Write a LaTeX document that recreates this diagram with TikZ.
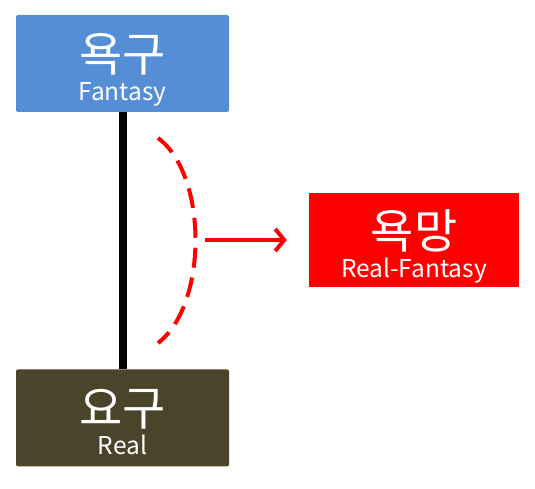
\documentclass[tikz,border=0pt]{standalone}
\usepackage{fontspec}
\setmainfont{Noto Sans CJK KR}
\usetikzlibrary{arrows.meta}
\usetikzlibrary{positioning}
\definecolor{fantasyblue}{RGB}{85,142,213}
\definecolor{realbrown}{RGB}{74,68,42}
\definecolor{desirered}{RGB}{255,0,0}
\newcommand{\boxfont}{\lineskiplimit=-100pt\relax\fontsize{24.5}{29}\selectfont}
\newcommand{\kortext}[1]{{\fontsize{47}{29}\selectfont #1}}
\newcommand{\lattext}[1]{{\fontsize{24.5}{29}\selectfont #1}}

\begin{document}
\begin{tikzpicture}[x=1pt, y=-1pt, node distance=257pt and 80pt,
    box/.style={rectangle, rounded corners=2pt, minimum width=213pt,
    minimum height=97pt, inner sep=0pt, text=white, align=center,
    text height=77pt, text depth=3pt, font=\boxfont},
    dashline/.style={draw=desirered, line width=4pt, dash pattern=on 20pt off 10pt},
    pointer/.style={draw=desirered, line width=4pt,
    -{Straight Barb[length=9pt, width=22pt]}, shorten >=22pt}]

    \useasboundingbox (0,0) rectangle (535,489);

    \node[box, fill=fantasyblue] (FAN) at (122.5,63.5) {\kortext{욕구}\\\lattext{Fantasy}};
    \node[box, fill=realbrown, below=of FAN] (REAL) {\kortext{요구}\\\lattext{Real}};
    \node[box, fill=desirered, rounded corners=0pt, minimum width=210pt,
        minimum height=94pt] (DES) at (414,240) {\kortext{욕망}\\\lattext{Real-Fantasy}};

    \draw[line width=8pt] (FAN) -- (REAL);

    \coordinate (ARCTOP) at (158,138);
    \coordinate (ARCBOT) at (158,343);
    \coordinate (ARCMID) at (205,240);
    \draw[dashline] (ARCTOP) .. controls (208,175) and (208,305) .. (ARCBOT);
    \path (ARCMID) edge [pointer] (DES.west);
\end{tikzpicture}
\end{document}
